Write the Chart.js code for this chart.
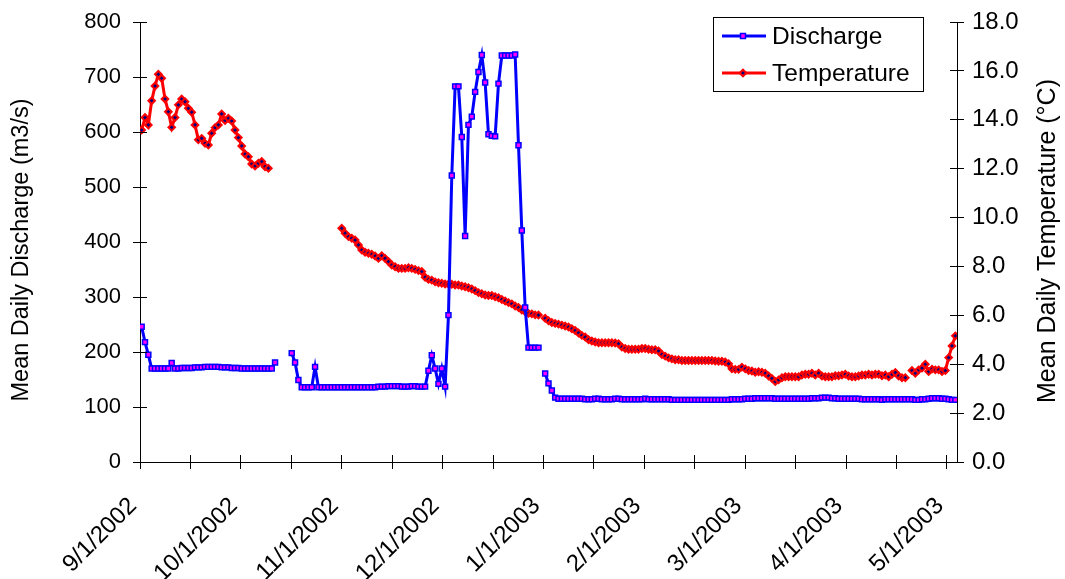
<!DOCTYPE html>
<html>
<head>
<meta charset="utf-8">
<title>Mean daily discharge and temperature</title>
<script src="https://cdn.jsdelivr.net/npm/chart.js@4.4.1/dist/chart.umd.min.js"></script>
<style>
  html, body { margin: 0; padding: 0; background: #ffffff; }
  #wrap { width: 1065px; height: 579px; }
</style>
</head>
<body>
<div id="wrap"><canvas id="chart" width="1065" height="579"></canvas></div>
<script>
// Daily record starting 9/1/2002; index 0 = Sep 1, one value per day (null = no reading).
const seriesNames = ['Discharge', 'Temperature'];

// Month labels shown on every other tick of the date axis.
const monthLabels = ['9/1/2002', '10/1/2002', '11/1/2002', '12/1/2002', '1/1/2003',
                     '2/1/2003', '3/1/2003', '4/1/2003', '5/1/2003'];

// Mean daily discharge (m3/s)
const discharge = [
  // Sep 2002
  246, 218, 195, 170, 170, 170, 170, 170, 170, 180,
  170, 170, 171, 171, 171, 171, 172, 172, 172, 173,
  173, 173, 173, 173, 172, 172, 172, 171, 171, 171,
  // Oct 2002
  170, 170, 170, 170, 170, 170, 170, 170, 170, 170,
  181, null, null, null, null, 198, 181, 149, 136, 136,
  136, 136, 173, 136, 136, 136, 136, 136, 136, 136, 136,
  // Nov 2002
  136, 136, 136, 136, 136, 136, 136, 136, 136, 136,
  137, 137, 137, 138, 138, 138, 138, 137, 137, 137,
  138, 138, 137, 137, 137, 166, 194, 170, 142, 170,
  // Dec 2002
  137, 267, 521, 683, 683, 591, 411, 613, 628, 673,
  709, 740, 690, 596, 593, 592, 688, 739, 739, 739,
  739, 741, 576, 421, 281, 208, 208, 208, 208, null, 161,
  // Jan 2003
  143, 130, 117, 115, 115, 115, 115, 115, 115, 115,
  115, 114, 114, 114, 115, 115, 114, 114, 114, 114,
  115, 115, 114, 114, 114, 114, 114, 114, 114, 115, 114,
  // Feb 2003
  114, 114, 114, 114, 114, 114, 113, 113, 113, 113,
  113, 113, 113, 113, 113, 113, 113, 113, 113, 113,
  113, 113, 113, 113, 114, 114, 114, 114,
  // Mar 2003
  115, 115, 115, 116, 116, 116, 116, 116, 116, 115,
  115, 115, 115, 115, 115, 115, 115, 115, 115, 115,
  116, 116, 116, 117, 117, 117, 116, 116, 115, 115, 115,
  // Apr 2003
  115, 115, 115, 115, 114, 114, 114, 114, 114, 114,
  113, 114, 114, 114, 114, 114, 114, 114, 114, 114,
  113, 113, 114, 114, 115, 116, 116, 116, 115, 115,
  // May 2003
  114, 113, 113
];

// Mean daily water temperature (°C)
const temperature = [
  // Sep 2002
  13.58, 14.09, 13.79, 14.78, 15.38, 15.86, 15.70, 14.85, 14.33, 13.69,
  14.09, 14.61, 14.85, 14.74, 14.47, 14.31, 13.79, 13.18, 13.24, 13.04,
  12.97, 13.45, 13.68, 13.79, 14.24, 13.97, 14.06, 13.95, 13.58, 13.27,
  // Oct 2002
  12.93, 12.60, 12.49, 12.19, 12.11, 12.22, 12.29, 12.08, 12.02, null,
  null, null, null, null, null, null, null, null, null, null,
  null, null, null, null, null, null, null, null, null, null, 9.56,
  // Nov 2002
  9.36, 9.22, 9.15, 9.08, 8.88, 8.67, 8.58, 8.54, 8.50, 8.43,
  8.33, 8.44, 8.33, 8.20, 8.06, 7.99, 7.92, 7.92, 7.92, 7.95,
  7.92, 7.88, 7.83, 7.79, 7.56, 7.47, 7.44, 7.37, 7.33, 7.31,
  // Dec 2002
  7.28, 7.27, 7.27, 7.24, 7.24, 7.20, 7.17, 7.13, 7.08, 7.01,
  6.93, 6.88, 6.83, 6.81, 6.81, 6.76, 6.72, 6.65, 6.59, 6.52,
  6.47, 6.38, 6.32, 6.22, 6.15, 6.08, 6.06, 6.02, 6.01, null, 5.88,
  // Jan 2003
  5.78, 5.71, 5.67, 5.64, 5.60, 5.56, 5.52, 5.45, 5.38, 5.28,
  5.18, 5.11, 5.00, 4.95, 4.91, 4.88, 4.88, 4.88, 4.88, 4.88,
  4.87, 4.84, 4.70, 4.64, 4.61, 4.61, 4.61, 4.61, 4.64, 4.64, 4.61,
  // Feb 2003
  4.59, 4.59, 4.54, 4.40, 4.33, 4.26, 4.22, 4.18, 4.18, 4.15,
  4.15, 4.15, 4.15, 4.15, 4.15, 4.15, 4.15, 4.15, 4.15, 4.13,
  4.12, 4.12, 4.09, 4.02, 3.81, 3.79, 3.79, 3.88,
  // Mar 2003
  3.81, 3.74, 3.72, 3.67, 3.69, 3.67, 3.63, 3.52, 3.42, 3.29,
  3.36, 3.45, 3.49, 3.49, 3.49, 3.49, 3.49, 3.56, 3.59, 3.59,
  3.63, 3.56, 3.63, 3.52, 3.49, 3.49, 3.49, 3.53, 3.53, 3.56, 3.59,
  // Apr 2003
  3.52, 3.49, 3.49, 3.52, 3.56, 3.56, 3.59, 3.56, 3.59, 3.59,
  3.53, 3.56, 3.49, 3.59, 3.66, 3.52, 3.45, 3.45, null, 3.74,
  3.63, 3.77, 3.84, 4.00, 3.70, 3.80, 3.77, 3.77, 3.70, 3.74,
  // May 2003
  4.27, 4.75, 5.16
];

const FONT_FAMILY = "'Liberation Sans', Arial, Helvetica, sans-serif";
const LEFT_TICK_FONT_SIZE = 22;
const RIGHT_TICK_FONT_SIZE = 24;
const DATE_FONT_SIZE = 24;
const LEGEND_FONT_SIZE = 24.5;

// Date axis: ticks every 15.125 days across the 242-day span 9/1/2002 – 5/1/2003,
// labelled with the month on every second tick.
const TICK_STEP = 242 / 16;
const xTickValues = [];
const xTickText = [];
for (let k = 0; k <= 16; k++) {
  xTickValues.push(-0.5 + k * TICK_STEP);
  xTickText.push(k % 2 === 0 ? monthLabels[k / 2] : '');
}

const toPoints = arr => arr.map((v, i) => ({ x: i, y: v }));

// Cross-style tick marks on all three axes.
const crossTicks = {
  id: 'crossTicks',
  afterDatasetsDraw(chart) {
    const { ctx } = chart;
    const sx = chart.scales.x, sy = chart.scales.y, sy1 = chart.scales.y1;
    const half = 7;
    ctx.save();
    ctx.strokeStyle = '#000000';
    ctx.lineWidth = 1;
    ctx.beginPath();
    sx.ticks.forEach(t => {
      const p = Math.round(sx.getPixelForValue(t.value) - 0.5) + 0.5;
      ctx.moveTo(p, sx.top - half);
      ctx.lineTo(p, sx.top + half);
    });
    sy.ticks.forEach(t => {
      const p = Math.round(sy.getPixelForValue(t.value) - 0.5) + 0.5;
      ctx.moveTo(sy.right - half, p);
      ctx.lineTo(sy.right + half, p);
    });
    sy1.ticks.forEach(t => {
      const p = Math.round(sy1.getPixelForValue(t.value) - 0.5) + 0.5;
      ctx.moveTo(sy1.left - half, p);
      ctx.lineTo(sy1.left + half, p);
    });
    ctx.stroke();
    ctx.restore();
  }
};

// Vertical axis titles, both reading bottom-to-top.
const axisTitles = {
  id: 'axisTitles',
  afterDraw(chart) {
    const { ctx } = chart;
    ctx.save();
    ctx.fillStyle = '#000000';
    ctx.textAlign = 'center';
    ctx.textBaseline = 'middle';
    const titles = [
      { text: 'Mean Daily Discharge (m3/s)', x: 22, y: 250, size: 23.5 },
      { text: 'Mean Daily Temperature (°C)', x: 1048, y: 241, size: 25 }
    ];
    titles.forEach(t => {
      ctx.save();
      ctx.font = t.size + 'px ' + FONT_FAMILY;
      ctx.translate(t.x, t.y);
      ctx.rotate(-Math.PI / 2);
      ctx.fillText(t.text, 0, 0);
      ctx.restore();
    });
    ctx.restore();
  }
};

// Boxed legend with a line-and-marker sample for each series.
const boxedLegend = {
  id: 'boxedLegend',
  afterDraw(chart) {
    const { ctx } = chart;
    const box = { x: 713.5, y: 17.5, w: 210, h: 74 };
    ctx.save();
    ctx.fillStyle = '#ffffff';
    ctx.strokeStyle = '#000000';
    ctx.lineWidth = 1;
    ctx.fillRect(box.x, box.y, box.w, box.h);
    ctx.strokeRect(box.x, box.y, box.w, box.h);
    ctx.font = LEGEND_FONT_SIZE + 'px ' + FONT_FAMILY;
    ctx.textAlign = 'left';
    ctx.textBaseline = 'middle';
    chart.data.datasets.forEach((ds, i) => {
      const cy = 36 + i * 37;
      ctx.strokeStyle = ds.borderColor;
      ctx.lineWidth = ds.borderWidth;
      ctx.beginPath();
      ctx.moveTo(722, cy);
      ctx.lineTo(766, cy);
      ctx.stroke();
      ctx.fillStyle = ds.pointBackgroundColor;
      ctx.strokeStyle = ds.pointBorderColor;
      ctx.lineWidth = ds.pointBorderWidth;
      Chart.helpers.drawPoint(ctx, {
        pointStyle: ds.pointStyle,
        radius: ds.pointRadius,
        rotation: 0,
        borderWidth: ds.pointBorderWidth
      }, 743, cy);
      ctx.fillStyle = '#000000';
      ctx.fillText(ds.label, 772, cy + 1);
    });
    ctx.restore();
  }
};

// Keep the plot area fixed: no extra room reserved above/below for the value labels.
const trimVerticalPadding = s => { s.paddingTop = 0; s.paddingBottom = 0; };

new Chart(document.getElementById('chart'), {
  type: 'line',
  data: {
    datasets: [
      {
        label: seriesNames[0],
        data: toPoints(discharge),
        yAxisID: 'y',
        borderColor: '#0000FF',
        borderWidth: 3,
        pointStyle: 'rect',
        pointRadius: 3.5,
        pointBorderWidth: 1.5,
        pointBackgroundColor: '#FF00FF',
        pointBorderColor: '#0000FF',
        spanGaps: false,
        tension: 0
      },
      {
        label: seriesNames[1],
        data: toPoints(temperature),
        yAxisID: 'y1',
        borderColor: '#FF0000',
        borderWidth: 3,
        pointStyle: 'rectRot',
        pointRadius: 3.3,
        pointBorderWidth: 2,
        pointBackgroundColor: '#000080',
        pointBorderColor: '#FF0000',
        spanGaps: false,
        tension: 0
      }
    ]
  },
  options: {
    responsive: false,
    animation: false,
    devicePixelRatio: 1,
    layout: { padding: { top: 22, right: 0, bottom: 0, left: 0 } },
    plugins: {
      legend: { display: false },
      tooltip: { enabled: false }
    },
    scales: {
      x: {
        type: 'linear',
        position: 'bottom',
        min: -0.5,
        max: 244.5,
        afterBuildTicks: s => { s.ticks = xTickValues.map(v => ({ value: v })); },
        afterFit: s => { s.height = 117; },
        grid: { drawOnChartArea: false, drawTicks: false },
        border: { display: true, color: '#000000', width: 1 },
        ticks: {
          autoSkip: false,
          minRotation: 45,
          maxRotation: 45,
          padding: 30,
          labelOffset: -7,
          color: '#000000',
          font: { family: FONT_FAMILY, size: DATE_FONT_SIZE },
          callback: (v, i) => xTickText[i]
        }
      },
      y: {
        position: 'left',
        min: 0,
        max: 800,
        afterFit: s => { s.width = 140; trimVerticalPadding(s); },
        grid: { drawOnChartArea: false, drawTicks: false },
        border: { display: true, color: '#000000', width: 1 },
        ticks: {
          stepSize: 100,
          padding: 19,
          color: '#000000',
          font: { family: FONT_FAMILY, size: LEFT_TICK_FONT_SIZE }
        }
      },
      y1: {
        position: 'right',
        min: 0,
        max: 18,
        afterFit: s => { s.width = 108; trimVerticalPadding(s); },
        grid: { drawOnChartArea: false, drawTicks: false },
        border: { display: true, color: '#000000', width: 1 },
        ticks: {
          stepSize: 2,
          padding: 15,
          color: '#000000',
          font: { family: FONT_FAMILY, size: RIGHT_TICK_FONT_SIZE },
          callback: v => Number(v).toFixed(1)
        }
      }
    }
  },
  plugins: [crossTicks, axisTitles, boxedLegend]
});
</script>
</body>
</html>
